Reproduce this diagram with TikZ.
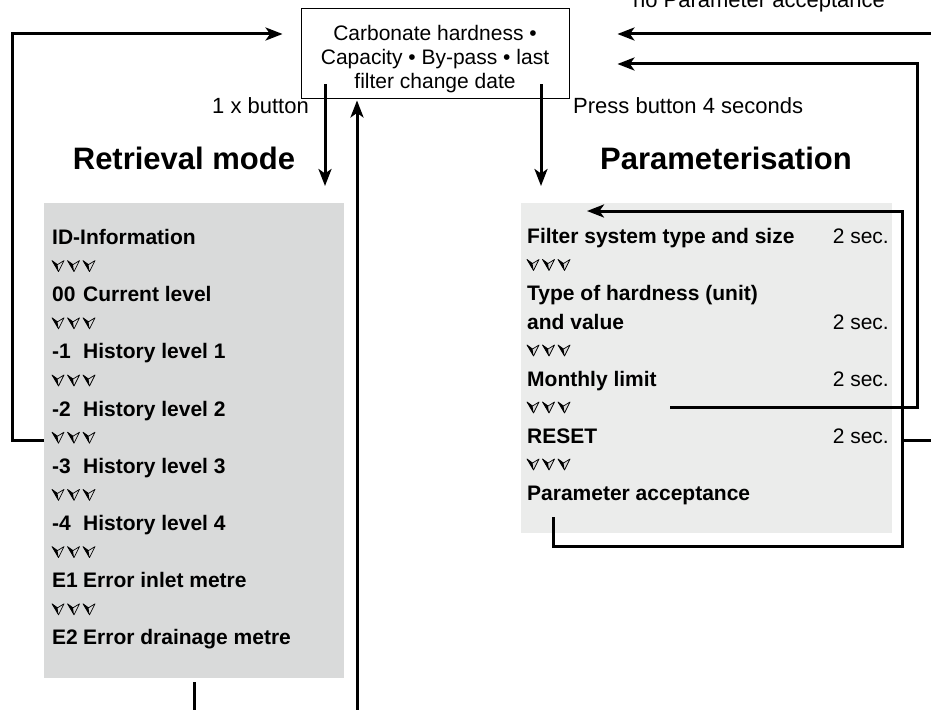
\documentclass[tikz,border=0pt]{standalone}
\usepackage{fontspec}
\setmainfont{Liberation Sans}
\usetikzlibrary{arrows.meta, positioning}
\usepackage{xcolor}
\definecolor{retgray}{HTML}{D9DADA}
\definecolor{pargray}{HTML}{EBECEB}
\newcommand{\lvl}[2]{\makebox[31pt][l]{#1}#2}
\tikzset{
  dnmark/.pic={
    \filldraw[line width=0.7pt, fill=gray!30, line join=round] (0,0) -- (5.5,4) -- (12,0) -- (6.5,11) -- cycle;
    \fill (0,0) -- (5.5,4) -- (6.5,11) -- cycle;
  },
  dnrow/.pic={
    \foreach \k in {0,1,2} \pic at (15.5*\k,0) {dnmark};
  }
}

\begin{document}
\begin{tikzpicture}[x=1pt, y=-1pt,
  flow/.style={line width=3pt, -{Stealth[length=17pt, width=13pt, inset=4.5pt]}},
  link/.style={line width=3pt},
  item/.style={anchor=base west, inner sep=0pt, font=\fontsize{21}{24}\selectfont\bfseries},
  secs/.style={anchor=base east, inner sep=0pt, font=\fontsize{21}{24}\selectfont},
  note/.style={inner sep=0pt, font=\fontsize{22}{24}\selectfont},
  head/.style={inner sep=0pt, font=\fontsize{31}{36}\selectfont\bfseries}]
  \useasboundingbox (0,0) rectangle (931,709);

  % panels and the central box
  \node[fill=retgray, minimum width=300pt, minimum height=475pt, inner sep=0pt, anchor=north west] (ret) at (44,203) {};
  \node[fill=pargray, minimum width=371pt, minimum height=330pt, inner sep=0pt, anchor=north west] (par) at (521,203) {};
  \node[draw, line width=0.9pt, minimum width=268pt, minimum height=90pt, inner sep=0pt] (box) at (435,53) {};
  \node[note, align=center, font=\fontsize{21}{24}\selectfont] (boxtxt) at (435,59)
        {Carbonate hardness \textbullet\\ Capacity \textbullet{} By-pass \textbullet{} last\\ filter change date};

  \node[head] (rethead) at (184,158) {Retrieval mode};
  \node[head] (parhead) at (726,158) {Parameterisation};

  \node[note, anchor=east] (onex) at (309,106) {1 x button};
  \node[note, anchor=west] (press) at (573,106) {Press button 4 seconds};
  \node[note, anchor=base] (nopa) at (759,8) {no Parameter acceptance};

  % retrieval mode list
  \node[item] (id) at (52,244.5) {ID-Information};
  \node[item] (l00) at (52,301.7) {\lvl{00}{Current level}};
  \node[item] (l1) at (52,358.9) {\lvl{-1}{History level 1}};
  \node[item] (l2) at (52,416.1) {\lvl{-2}{History level 2}};
  \node[item] (l3) at (52,473.3) {\lvl{-3}{History level 3}};
  \node[item] (l4) at (52,530.5) {\lvl{-4}{History level 4}};
  \node[item] (e1) at (52,587.7) {\lvl{E1}{Error inlet metre}};
  \node[item] (e2) at (52,644.9) {\lvl{E2}{Error drainage metre}};
  \foreach \y in {260.6,317.8,375,432.2,489.4,546.6,603.8}
    \pic at (52,\y) {dnrow};

  % parameterisation list
  \node[item] (filt) at (527,243.5) {Filter system type and size};
  \node[item] (hard) at (527,300.5) {Type of hardness (unit)};
  \node[item] (hval) at (527,329) {and value};
  \node[item] (mlim) at (527,386) {Monthly limit};
  \node[item] (reset) at (527,443) {RESET};
  \node[item] (pacc) at (527,500) {Parameter acceptance};
  \node[secs] (s1) at (889,243.5) {2 sec.};
  \node[secs] (s2) at (889,329) {2 sec.};
  \node[secs] (s3) at (889,386) {2 sec.};
  \node[secs] (s4) at (889,443) {2 sec.};
  \foreach \y in {259.5,345,402,459}
    \pic at (527,\y) {dnrow};

  % connectors
  \coordinate (bl) at (325,84);
  \coordinate (br) at (541,84);
  \coordinate (up) at (357,712);
  \coordinate (tr) at (934,34);
  \coordinate (ml) at (670,407);
  \coordinate (pa) at (553,517);
  \coordinate (rs) at (934,440);

  \draw[flow] (ret.west |- 0,440) -- ++(-32,0) |- ([xshift=-18pt]box.west |- tr);
  \draw[flow] (bl) -- ([yshift=17pt]ret.north -| bl);
  \draw[flow] (br) -- ([yshift=17pt]par.north -| br);
  \draw[flow] (up) -- ([yshift=-2pt]box.south -| up);
  \draw[link] ([yshift=-4pt]ret.south) -- ++(0,40);
  \draw[flow] (tr) -- ([xshift=48pt]box.east |- tr);
  \draw[flow] (ml) -- (917,407) |- ([xshift=48pt]box.east |- 0,64);
  \draw[flow] (pa) |- (902,546) |- (587,211);
  \draw[link] (902,440) -- (rs);
\end{tikzpicture}
\end{document}
